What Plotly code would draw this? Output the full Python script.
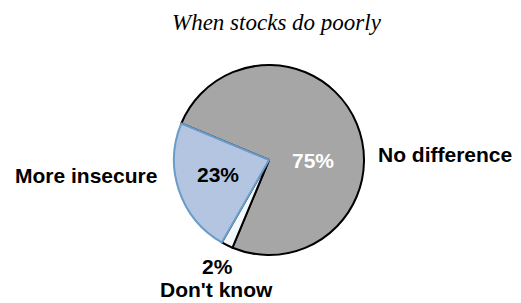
import plotly.graph_objects as go

# Data
labels = ["No difference", "Don't know", "More insecure"]
values = [75, 2, 23]
pct_text = ["75%", "2%", "23%"]
title_text = "When stocks do poorly"

# The page body has an 8px margin, so the figure is shifted by (8, 8)
OFF = 8
W, H = 521 - OFF, 303 - OFF
def px(x):
    return (x - OFF) / W
def py(y):
    return 1 - (y - OFF) / H

cx, cy, r = 269, 160, 95

fig = go.Figure()
fig.add_trace(go.Pie(
    labels=labels,
    values=values,
    sort=False,
    direction="clockwise",
    rotation=292.6,
    textinfo="none",
    hoverinfo="label+percent",
    marker=dict(
        colors=["#a6a6a6", "#f4f7fc", "#b3c5e0"],
        line=dict(color=["#000000", "#000000", "#6b9bc9"], width=2),
    ),
    domain=dict(x=[px(cx - r), px(cx + r)], y=[py(cy + r), py(cy - r)]),
    showlegend=False,
))

bold = dict(family="Liberation Sans, Arial, sans-serif", size=21, color="#000000", weight="bold")

annots = [
    # (text, x, y, xanchor, color)
    (pct_text[0], 312.5, 160, "center", "#ffffff"),
    (pct_text[2], 218, 174.5, "center", "#000000"),
    (pct_text[1], 217.5, 266, "center", "#000000"),
    (labels[0], 376, 154.5, "left", "#000000"),
    (labels[2], 159, 175, "right", "#000000"),
    (labels[1], 216, 289.5, "center", "#000000"),
]
for t, x, y, xa, col in annots:
    f = dict(bold)
    f["color"] = col
    fig.add_annotation(text=t, x=px(x), y=py(y), xref="paper", yref="paper",
                       xanchor=xa, yanchor="middle", showarrow=False, font=f)

fig.add_annotation(text=title_text, x=px(276.5), y=py(22), xref="paper", yref="paper",
                   xanchor="center", yanchor="middle", showarrow=False,
                   font=dict(family="Liberation Serif, Times New Roman, serif", size=23,
                             color="#000000", style="italic"))

fig.update_layout(
    width=W, height=H,
    margin=dict(l=0, r=0, t=0, b=0),
    paper_bgcolor="#ffffff",
    plot_bgcolor="#ffffff",
)

fig.write_html("out.html")
